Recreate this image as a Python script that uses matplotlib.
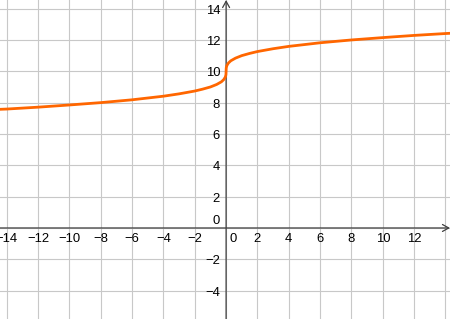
import matplotlib
matplotlib.use("Agg")
import matplotlib.pyplot as plt

# ── Données ──────────────────────────────────────────────────────────────────
courbe_x = [-14.5, -14, -12, -10, -8, -6, -4, -3, -2, -1.5, -1, -0.6, -0.3,
            -0.15, -0.05, -0.01, 0, 0.01, 0.05, 0.15, 0.3, 0.6, 1, 1.5, 2,
            3, 4, 6, 8, 10, 12, 14, 14.4]
courbe_y = [7.57, 7.59, 7.71, 7.85, 8.0, 8.18, 8.41, 8.56, 8.74, 8.86, 9.0,
            9.16, 9.33, 9.47, 9.63, 9.78, 10.0, 10.22, 10.37, 10.53, 10.67,
            10.84, 11.0, 11.14, 11.26, 11.44, 11.59, 11.82, 12.0, 12.15,
            12.29, 12.41, 12.43]

ticks_x = [-14, -12, -10, -8, -6, -4, -2, 0, 2, 4, 6, 8, 10, 12, 14]
ticks_y = [-4, -2, 0, 2, 4, 6, 8, 10, 12, 14]
labels_x = [-14, -12, -10, -8, -6, -4, -2, 2, 4, 6, 8, 10, 12]
labels_y = [-4, -2, 2, 4, 6, 8, 10, 12, 14]

XMIN, XMAX = -14.43, 14.29
YMIN, YMAX = -5.81, 14.55

ORANGE = "#FF6600"
GRILLE = "#C8C8C8"
AXE = "#404040"

plt.rcParams["font.family"] = ["Liberation Sans", "DejaVu Sans"]

fig = plt.figure(figsize=(4.5, 3.19), dpi=100)
ax = fig.add_axes([0, 0, 1, 1])
ax.set_xlim(XMIN, XMAX)
ax.set_ylim(YMIN, YMAX)

# grille
ax.set_xticks(ticks_x)
ax.set_yticks(ticks_y)
ax.grid(True, color=GRILLE, linewidth=0.8)
ax.tick_params(length=0, labelbottom=False, labelleft=False)
for s in ax.spines.values():
    s.set_visible(False)

# axes avec flèches ouvertes
ax.annotate("", xy=(XMAX, 0), xytext=(XMIN, 0),
            arrowprops=dict(arrowstyle="->,head_length=0.45,head_width=0.25",
                            color=AXE, lw=0.9, shrinkA=0, shrinkB=0))
ax.annotate("", xy=(0, YMAX), xytext=(0, YMIN),
            arrowprops=dict(arrowstyle="->,head_length=0.45,head_width=0.25",
                            color=AXE, lw=0.9, shrinkA=0, shrinkB=0))

# courbe
ax.plot(courbe_x, courbe_y, color=ORANGE, linewidth=2.0,
        solid_capstyle="round", zorder=5)

# étiquettes
fs = 9.4
for v in labels_x:
    ax.annotate(f"{v}".replace("-", "\u2212"), xy=(v, 0), xytext=(0, -11),
                textcoords="offset pixels", ha="center", va="center",
                fontsize=fs, color="black", annotation_clip=False)
ax.annotate("0", xy=(0, 0), xytext=(7.5, -11), textcoords="offset pixels",
            ha="center", va="center", fontsize=fs, color="black")
for v in labels_y:
    ax.annotate(f"{v}".replace("-", "\u2212"), xy=(0, v), xytext=(-6, -2),
                textcoords="offset pixels", ha="right", va="center",
                fontsize=fs, color="black")
ax.annotate("0", xy=(0, 0), xytext=(-6, 6.5), textcoords="offset pixels",
            ha="right", va="center", fontsize=fs, color="black")

fig.savefig("out.png", dpi=100)
